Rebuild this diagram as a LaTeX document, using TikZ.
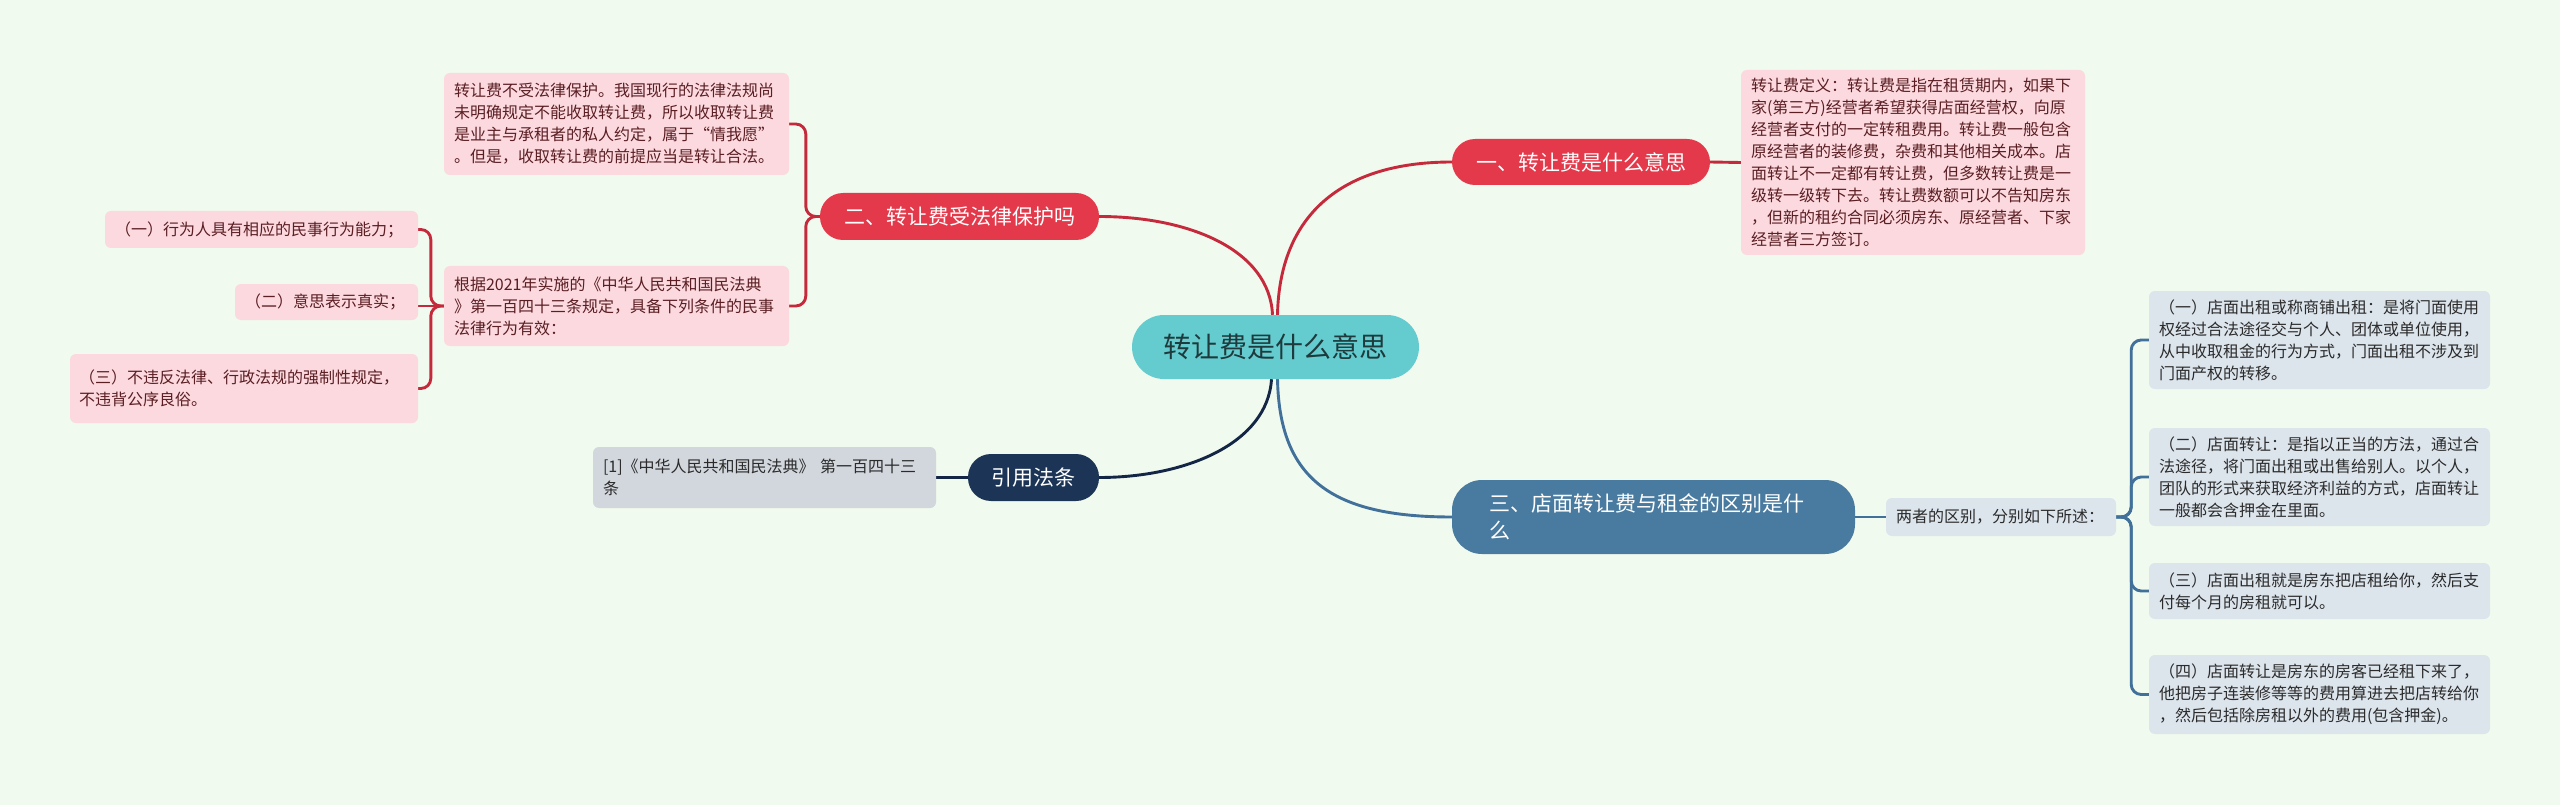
\documentclass[tikz,border=0pt]{standalone}
\usepackage{fontspec}
\usetikzlibrary{backgrounds}
\newfontfamily\cjk{Noto Sans CJK SC}
\definecolor{bg}{HTML}{F1FAEE}
\definecolor{cfill}{HTML}{64CBCE}
\definecolor{ctext}{HTML}{1E3A3C}
\definecolor{tred}{HTML}{E3394A}
\definecolor{lred}{HTML}{C42A3B}
\definecolor{dpink}{HTML}{FBD9DE}
\definecolor{dpinktext}{HTML}{5A1E23}
\definecolor{tnavy}{HTML}{1C3456}
\definecolor{lnavy}{HTML}{132646}
\definecolor{dgray}{HTML}{D2D6DD}
\definecolor{tblue}{HTML}{497BA0}
\definecolor{lblue}{HTML}{41719A}
\definecolor{dblue}{HTML}{DCE4EC}
\definecolor{dtext}{HTML}{2B2B2B}
\tikzset{
  topicbox/.style={rounded corners=23pt, text=white, inner sep=0pt, minimum height=47pt,
    font=\fontsize{21}{27}\selectfont\cjk},
  detailbox/.style={rounded corners=6pt, inner xsep=10pt, inner ysep=0pt, align=left,
    font=\fontsize{16}{22}\selectfont\cjk},
  pinkbox/.style={detailbox, fill=dpink, text=dpinktext},
  graybox/.style={detailbox, fill=dgray, text=dtext},
  bluebox/.style={detailbox, fill=dblue, text=dtext},
  redline/.style={draw=lred, line width=2.9pt},
  navyline/.style={draw=lnavy, line width=2.9pt},
  blueline/.style={draw=lblue, line width=2.9pt},
}
\begin{document}
\begin{tikzpicture}[x=1pt,y=-1pt]
\useasboundingbox (0,0) rectangle (2560,805);

% center
\node[fill=cfill, text=ctext, rounded corners=32pt, minimum width=287pt, minimum height=64pt,
  inner sep=0pt, font=\fontsize{28}{34}\selectfont\cjk] (c) at (1275.5,347) {转让费是什么意思};

% topic 1
\node[topicbox, fill=tred, minimum width=258pt, minimum height=46pt] (t1) at (1581,162) {一、转让费是什么意思};
\node[pinkbox, text width=324pt, minimum height=185pt] (d1) at (1913,162.5) {转让费定义：转让费是指在租赁期内，如果下\\
家(第三方)经营者希望获得店面经营权，向原\\
经营者支付的一定转租费用。转让费一般包含\\
原经营者的装修费，杂费和其他相关成本。店\\
面转让不一定都有转让费，但多数转让费是一\\
级转一级转下去。转让费数额可以不告知房东\\
，但新的租约合同必须房东、原经营者、下家\\
经营者三方签订。};

% topic 2
\node[topicbox, fill=tred, minimum width=279pt] (t2) at (959.5,216.5) {二、转让费受法律保护吗};
\node[pinkbox, text width=325pt, minimum height=102pt] (d2a) at (616.5,124) {转让费不受法律保护。我国现行的法律法规尚\\
未明确规定不能收取转让费，所以收取转让费\\
是业主与承租者的私人约定，属于“情我愿”\\
。但是，收取转让费的前提应当是转让合法。};
\node[pinkbox, text width=325pt, minimum height=80pt] (d2b) at (616.5,306) {根据2021年实施的《中华人民共和国民法典\\
》第一百四十三条规定，具备下列条件的民事\\
法律行为有效：};
\node[pinkbox, text width=293pt, minimum height=37pt] (s1) at (261.5,229.5) {（一）行为人具有相应的民事行为能力；};
\node[pinkbox, text width=163pt, minimum height=36pt] (s2) at (326.5,302) {（二）意思表示真实；};
\node[pinkbox, text width=330pt, minimum height=69pt, inner xsep=9pt] (s3) at (244,388.5) {（三）不违反法律、行政法规的强制性规定，\\不违背公序良俗。};

% reference topic
\node[topicbox, fill=tnavy, minimum width=131pt] (t4) at (1033.5,477.5) {引用法条};
\node[graybox, text width=323pt, minimum height=61pt] (d4) at (764.5,477.5) {[1]《中华人民共和国民法典》 第一百四十三\\条};

% topic 3
\node[topicbox, fill=tblue, rounded corners=30pt, minimum height=74pt, text width=329pt,
  inner xsep=37pt, align=left] (t3) at (1653.5,517) {三、店面转让费与租金的区别是什\\么};
\node[bluebox, text width=210pt, minimum height=38pt] (d3) at (2001,517) {两者的区别，分别如下所述：};
\node[bluebox, text width=321pt, minimum height=98pt] (r1) at (2319.5,340) {（一）店面出租或称商铺出租：是将门面使用\\
权经过合法途径交与个人、团体或单位使用，\\
从中收取租金的行为方式，门面出租不涉及到\\
门面产权的转移。};
\node[bluebox, text width=321pt, minimum height=98pt] (r2) at (2319.5,477) {（二）店面转让：是指以正当的方法，通过合\\
法途径，将门面出租或出售给别人。以个人，\\
团队的形式来获取经济利益的方式，店面转让\\
一般都会含押金在里面。};
\node[bluebox, text width=321pt, minimum height=56pt] (r3) at (2319.5,591) {（三）店面出租就是房东把店租给你，然后支\\
付每个月的房租就可以。};
\node[bluebox, text width=321pt, minimum height=79pt] (r4) at (2319.5,694.5) {（四）店面转让是房东的房客已经租下来了，\\
他把房子连装修等等的费用算进去把店转给你\\
，然后包括除房租以外的费用(包含押金)。};

\begin{pgfonlayer}{background}
\fill[bg] (0,0) rectangle (2560,805);
% connectors from center
\draw[redline] ([xshift=2pt]c.north) .. controls ([xshift=4pt,yshift=100pt]c.north) and ([xshift=-110pt]t1.west) .. (t1.west);
\draw[redline] ([xshift=-3pt]c.north) .. controls ([xshift=-6pt,yshift=65pt]c.north) and ([xshift=90pt]t2.east) .. (t2.east);
\draw[navyline] ([xshift=-4pt]c.south) .. controls ([xshift=-8pt,yshift=-65pt]c.south) and ([xshift=85pt]t4.east) .. (t4.east);
\draw[blueline] ([xshift=2pt]c.south) .. controls ([xshift=4pt,yshift=-100pt]c.south) and ([xshift=-120pt]t3.west) .. (t3.west);

% straight links
\draw[redline] (t1.east) -- (d1.west);
\draw[navyline] (t4.west) -- (d4.east);
\draw[blueline] (t3.east) -- (d3.west);

% brackets
\draw[redline, rounded corners=10pt] (t2.west) -- ++(-14,0) |- (d2a.east);
\draw[redline, rounded corners=10pt] (t2.west) -- ++(-14,0) |- (d2b.east);
\draw[redline, rounded corners=10pt] (d2b.west) -- ++(-13,0) |- (s1.east);
\draw[redline] (d2b.west) -- (d2b.west -| s2.east);
\draw[redline, rounded corners=10pt] (d2b.west) -- ++(-13,0) |- (s3.east);

\draw[blueline, rounded corners=10pt] (d3.east) -- ++(15,0) |- (r1.west);
\draw[blueline, rounded corners=10pt] (d3.east) -- ++(15,0) |- (r2.west);
\draw[blueline, rounded corners=10pt] (d3.east) -- ++(15,0) |- (r3.west);
\draw[blueline, rounded corners=10pt] (d3.east) -- ++(15,0) |- (r4.west);
\end{pgfonlayer}
\end{tikzpicture}
\end{document}
